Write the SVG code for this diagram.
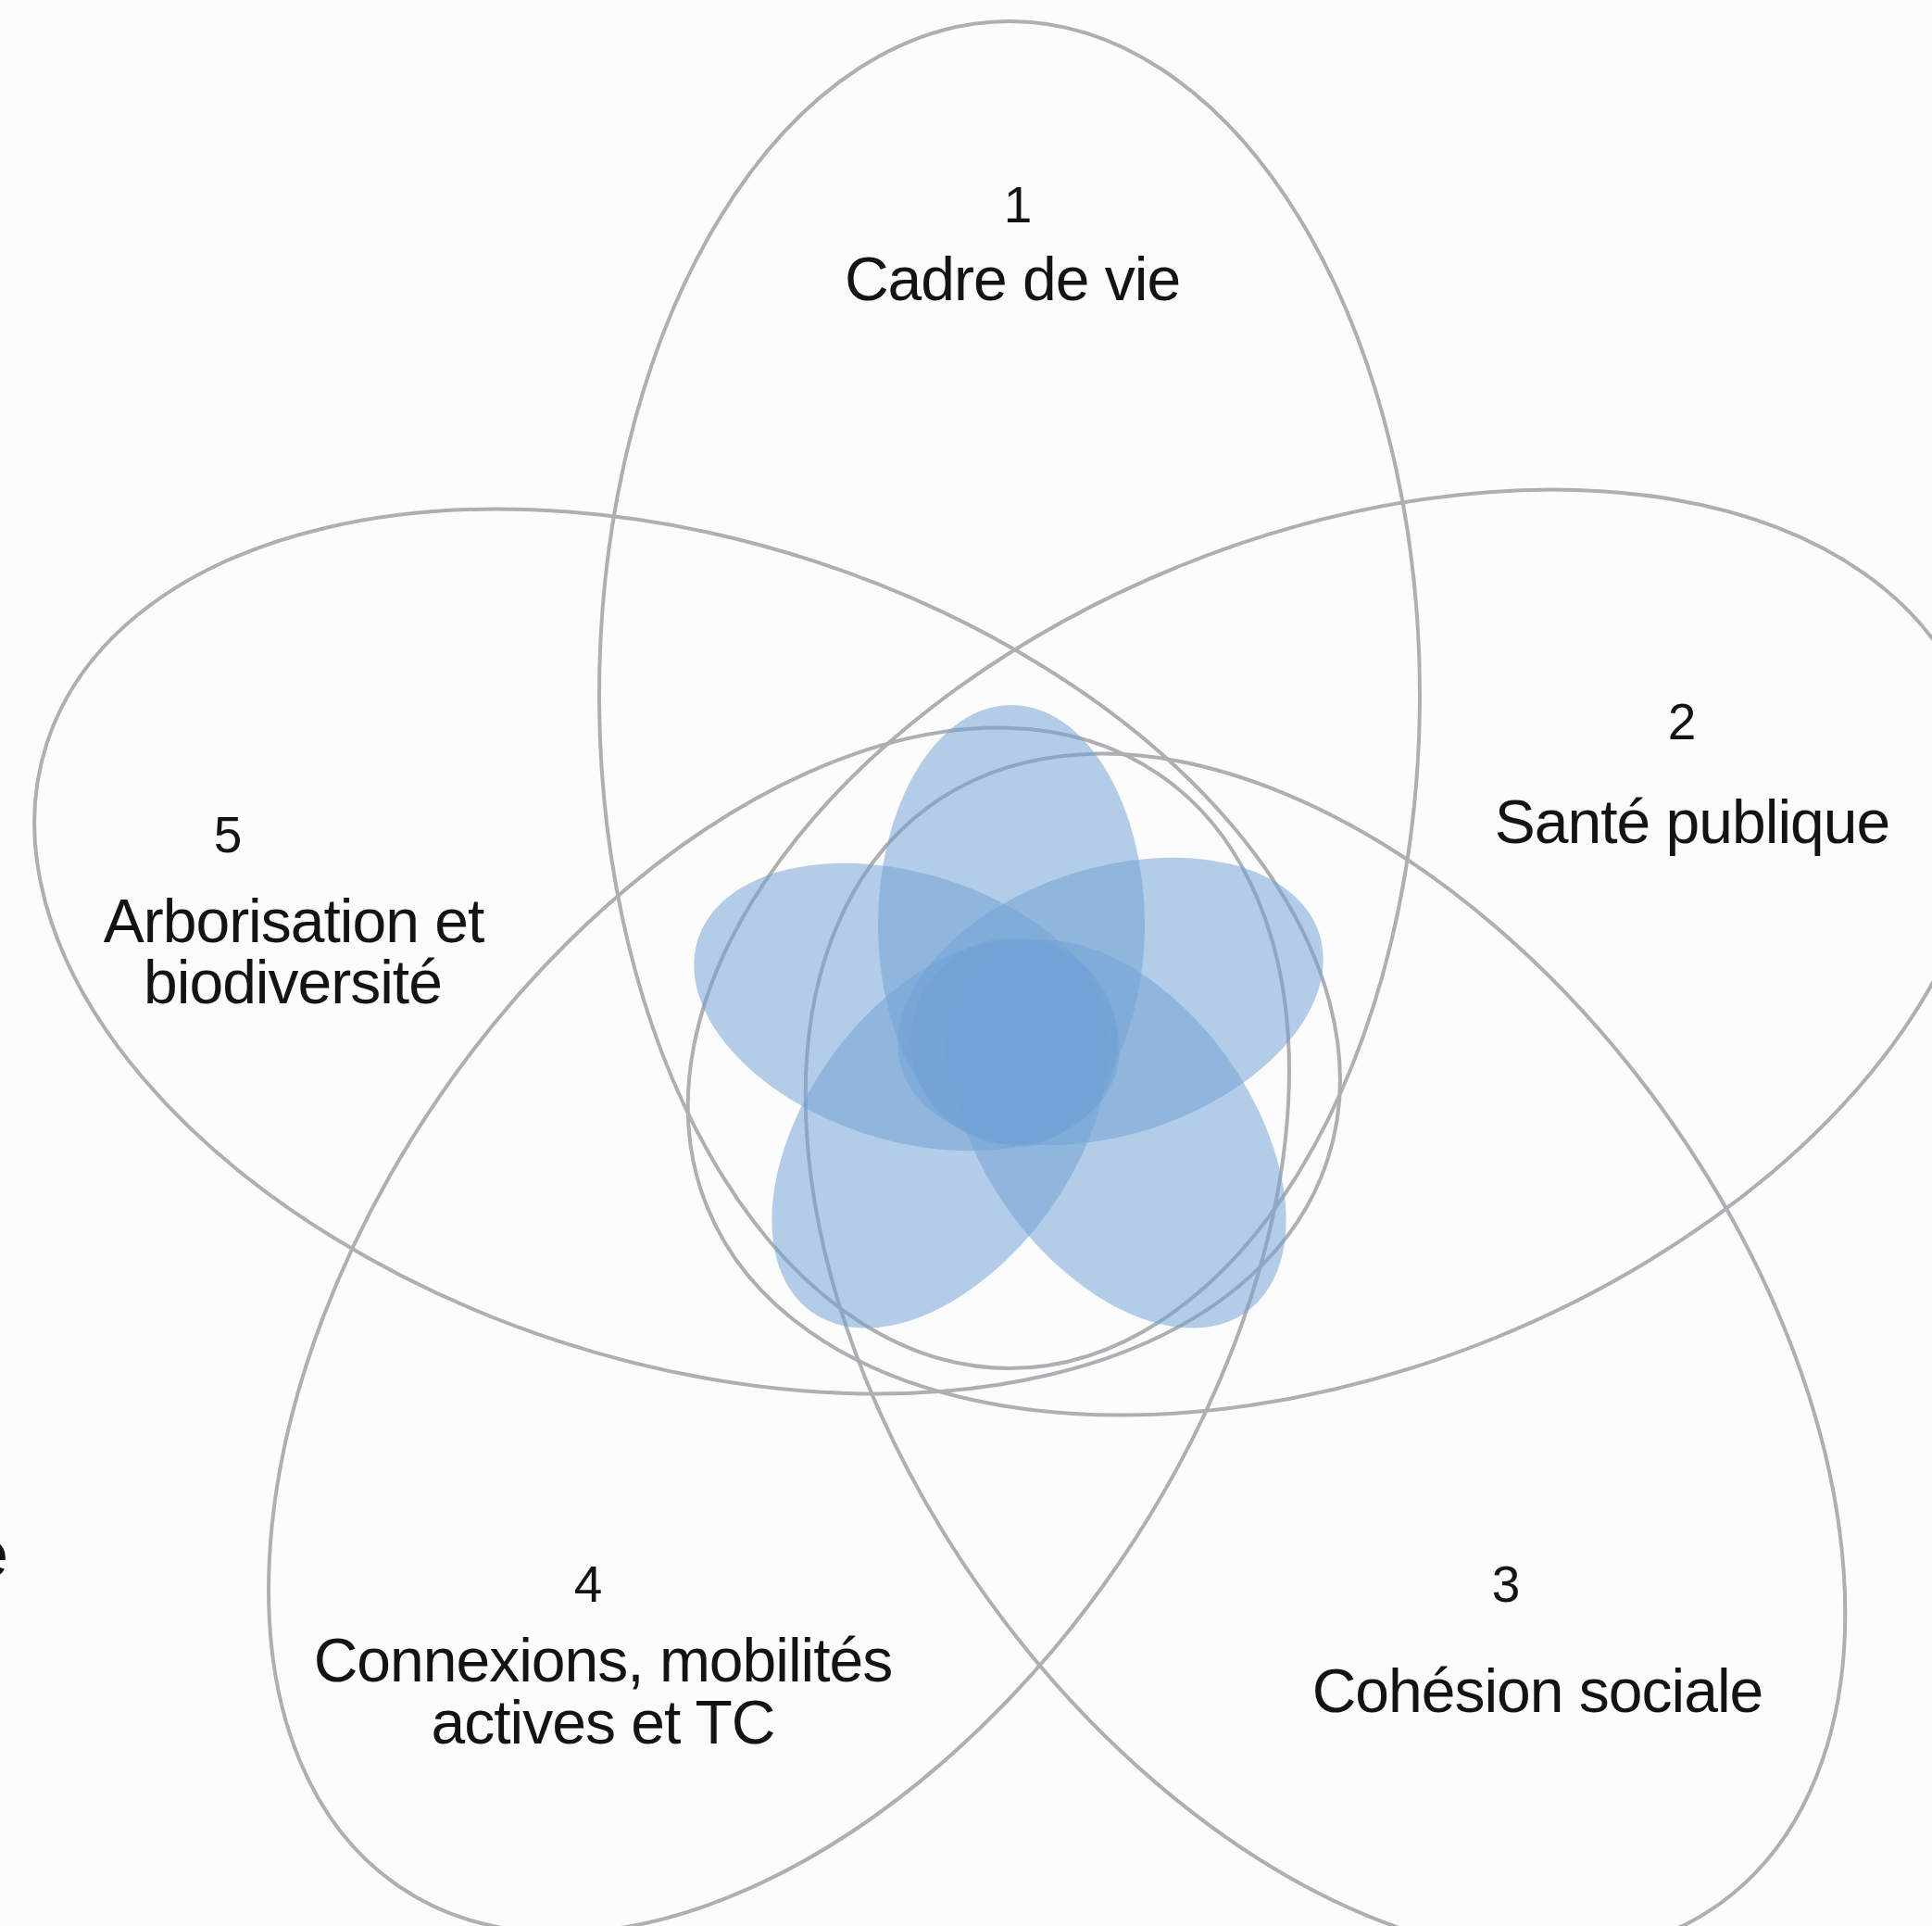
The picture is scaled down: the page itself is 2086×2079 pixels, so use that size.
<svg xmlns="http://www.w3.org/2000/svg" width="2086" height="2079" viewBox="0 0 2086 2079">
<style>
.ring{fill:none;stroke:#adafb2;stroke-width:4}
.petal{fill:#72a3d5;fill-opacity:0.53}
.num{font-family:"Liberation Sans",Arial,sans-serif;font-size:55px;fill:#131313;text-anchor:middle}
.lbl{font-family:"Liberation Sans",Arial,sans-serif;font-size:66px;fill:#131313;text-anchor:middle;letter-spacing:-1px}
</style>
<rect x="0" y="0" width="2086" height="2079" fill="#fcfcfc"/>
<g id="connectors"></g>
<g id="set1">
<ellipse class="ring" cx="1090" cy="750" rx="443" ry="727"/>
<text class="num" x="1099" y="240">1</text>
<text class="lbl" x="1093" y="324">Cadre de vie</text>
</g>
<g id="set2">
<ellipse class="ring" cx="1443" cy="1028" rx="450" ry="733" transform="rotate(68 1443 1028)"/>
<text class="num" x="1816" y="798">2</text>
<text class="lbl" x="1827" y="910">Santé publique</text>
</g>
<g id="set3">
<ellipse class="ring" cx="1431" cy="1462" rx="450" ry="730" transform="rotate(-35.7 1431 1462)"/>
<text class="num" x="1626" y="1729">3</text>
<text class="lbl" x="1660" y="1848">Cohésion sociale</text>
</g>
<g id="set4">
<ellipse class="ring" cx="841" cy="1436" rx="445" ry="727" transform="rotate(34.4 841 1436)"/>
<text class="num" x="635" y="1729">4</text>
<text class="lbl" x="651" y="1815">Connexions, mobilités</text>
<text class="lbl" x="651" y="1882">actives et TC</text>
</g>
<g id="set5">
<ellipse class="ring" cx="742" cy="1027" rx="443" ry="727" transform="rotate(-72 742 1027)"/>
<text class="num" x="246" y="920">5</text>
<text class="lbl" x="317" y="1017">Arborisation et</text>
<text class="lbl" x="316" y="1083">biodiversité</text>
</g>
<g id="petals">
<ellipse class="petal" cx="1092" cy="998" rx="144" ry="237"/>
<ellipse class="petal" cx="1199" cy="1081" rx="144" ry="237" transform="rotate(72 1199 1081)"/>
<ellipse class="petal" cx="1207" cy="1224" rx="144" ry="237" transform="rotate(144 1207 1224)"/>
<ellipse class="petal" cx="1015" cy="1224" rx="144" ry="237" transform="rotate(-144 1015 1224)"/>
<ellipse class="petal" cx="979" cy="1087" rx="144" ry="237" transform="rotate(-72 979 1087)"/>
<circle class="petal" cx="1095" cy="1124" r="112"/>
<ellipse class="petal" cx="1103" cy="1131" rx="83" ry="107"/>
</g>
<g id="edge-text">
<text x="-31" y="1702" font-family="Liberation Sans, Arial, sans-serif" font-size="72" fill="#131313">e</text>
</g>
</svg>
